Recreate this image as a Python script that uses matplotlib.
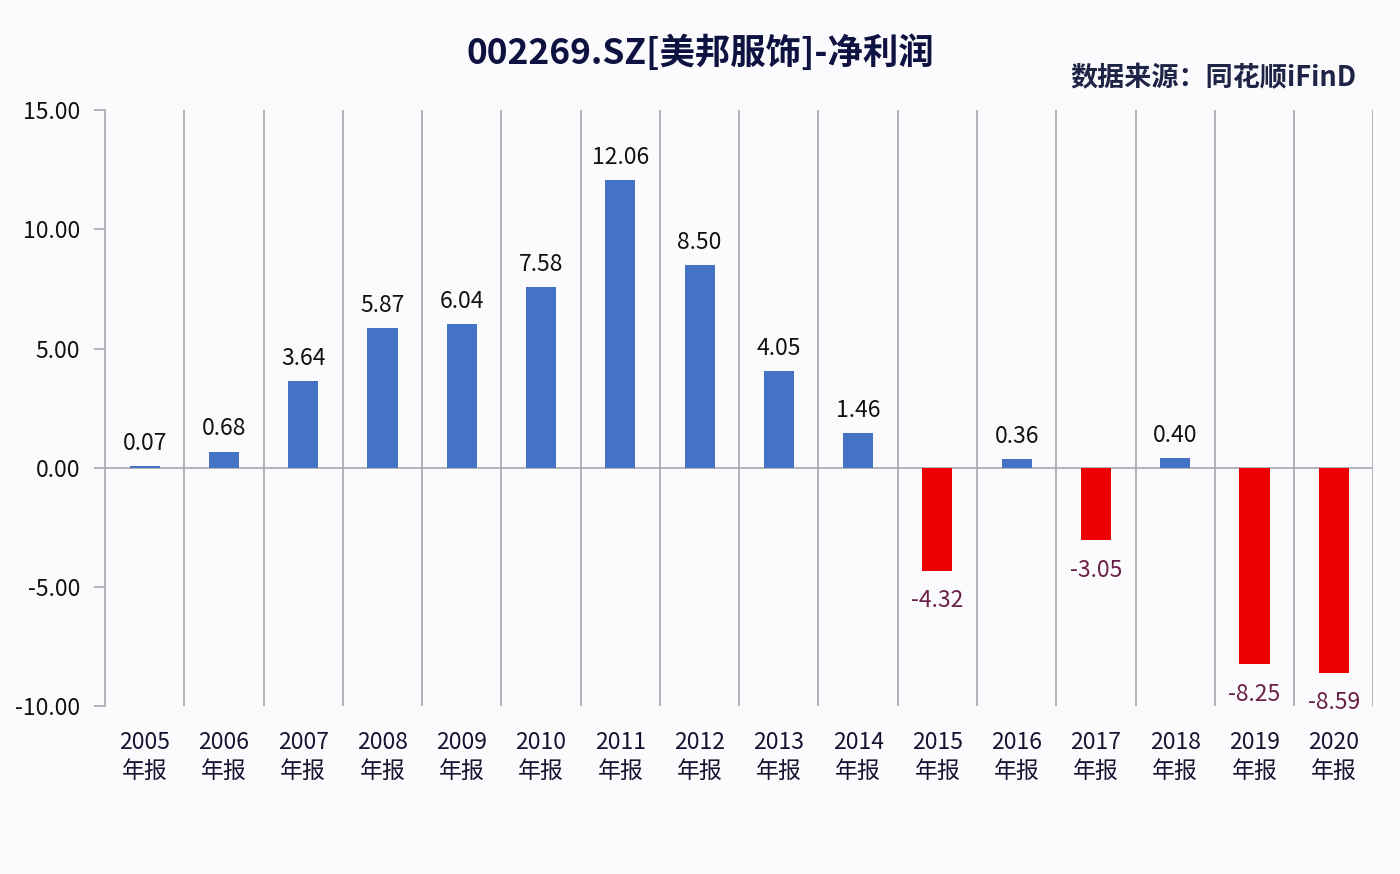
import numpy as np
import matplotlib.pyplot as plt

plt.rcParams['font.family'] = ['Noto Sans CJK SC', 'DejaVu Sans']

# years and net profit (亿元)
years = ['2005', '2006', '2007', '2008', '2009', '2010', '2011', '2012',
         '2013', '2014', '2015', '2016', '2017', '2018', '2019', '2020']
profit = [0.07, 0.68, 3.64, 5.87, 6.04, 7.58, 12.06, 8.50,
          4.05, 1.46, -4.32, 0.36, -3.05, 0.40, -8.25, -8.59]
yticks = [15, 10, 5, 0, -5, -10]

x = np.arange(len(years))
cols = ['#4472C4' if v >= 0 else '#EE0000' for v in profit]

fig = plt.figure(figsize=(14, 8.74), dpi=100, facecolor='#FBFBFD')
ax = fig.add_axes([0.075, 0.192, 0.906, 0.682])
ax.set_facecolor('#FBFBFD')

ax.bar(x, profit, width=0.38, color=cols, zorder=3)

# vertical separators between categories
for b in np.arange(len(years)) + 0.5:
    ax.axvline(b, color='#A6A6AE', lw=1.2, zorder=1)
ax.axhline(0, color='#A6A6AE', lw=1.2, zorder=2)

for i, v in enumerate(profit):
    if v >= 0:
        ax.annotate('%.2f' % v, (i, v), xytext=(0, 8), textcoords='offset points',
                    ha='center', va='bottom', fontsize=16.5, color='#111111')
    else:
        ax.annotate('%.2f' % v, (i, v), xytext=(0, -13), textcoords='offset points',
                    ha='center', va='top', fontsize=16.5, color='#6B2048')

ax.set_xlim(-0.5, len(years) - 0.5)
ax.set_ylim(-10, 15)
ax.set_yticks(yticks)
ax.set_yticklabels(['%.2f' % t for t in yticks], fontsize=16.5, color='#111111')
ax.set_xticks(x)
ax.set_xticklabels([y + '\n年报' for y in years], fontsize=16.5, color='#1A1030',
                   linespacing=1.3)
ax.tick_params(axis='x', length=0, pad=18)
ax.tick_params(axis='y', length=8, color='#A6A6AE', width=1.2, pad=10)

for s in ['top', 'right', 'bottom']:
    ax.spines[s].set_visible(False)
ax.spines['left'].set_color('#A6A6AE')
ax.spines['left'].set_linewidth(1.2)

fig.text(0.5, 0.94, '002269.SZ[美邦服饰]-净利润', ha='center', va='center',
         fontsize=25.5, fontweight='bold', color='#0E1240')
fig.text(0.969, 0.91, '数据来源：同花顺iFinD', ha='right', va='center',
         fontsize=19.5, fontweight='bold', color='#1E2445')

fig.savefig('out.png', dpi=100, facecolor=fig.get_facecolor())
